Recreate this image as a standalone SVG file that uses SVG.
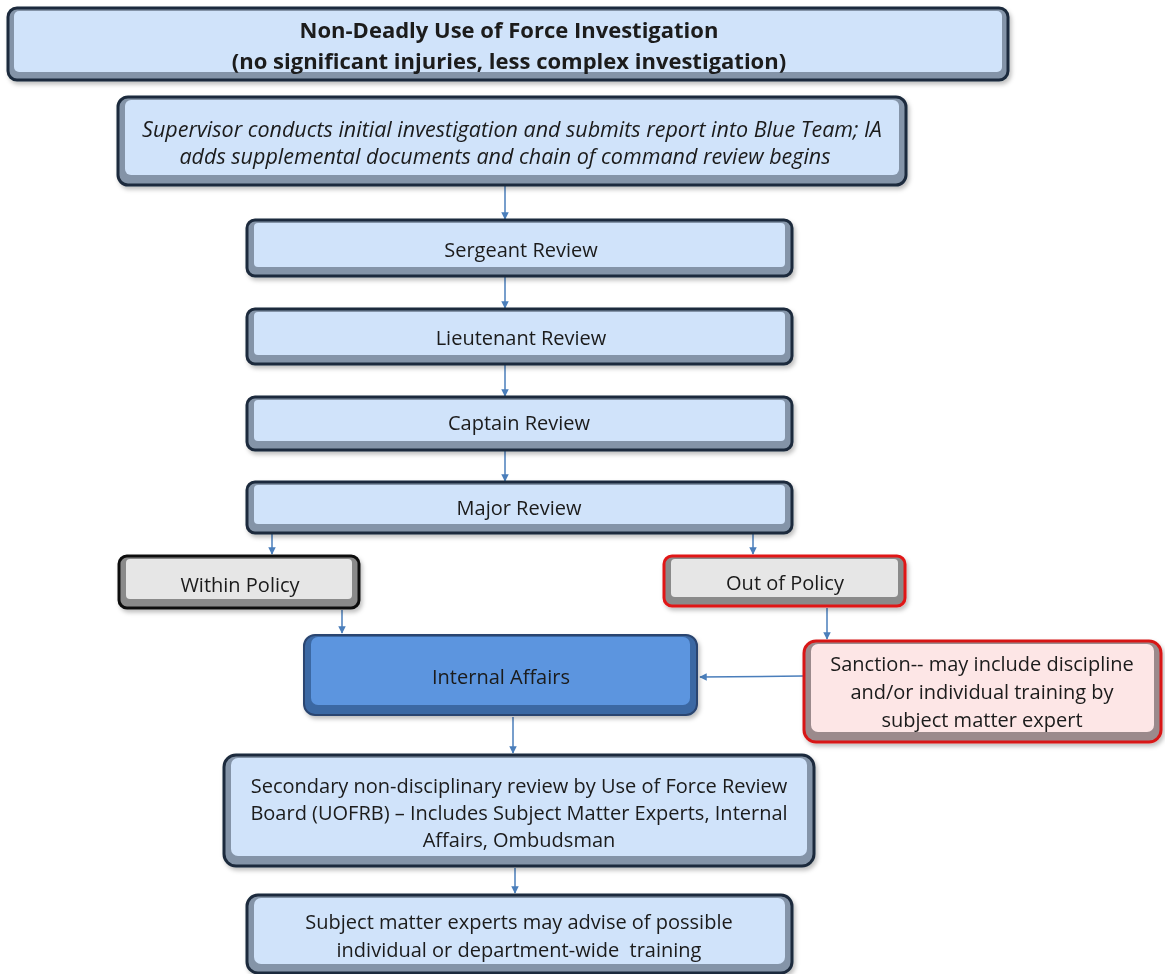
<svg xmlns="http://www.w3.org/2000/svg" width="1165" height="974" viewBox="0 0 1165 974">
<defs>
<marker id="ah" viewBox="0 0 10 10" refX="9" refY="5" markerWidth="5" markerHeight="5" orient="auto-start-reverse" markerUnits="strokeWidth"><path d="M0,0 L10,5 L0,10 z" fill="#4a7ebb"/></marker>
<filter id="sh" x="-5%" y="-10%" width="110%" height="130%"><feDropShadow dx="2" dy="3" stdDeviation="2" flood-color="#000" flood-opacity="0.25"/></filter>
</defs>
<style>
text{font-family:"Open Sans","Liberation Sans",sans-serif;font-size:20px;fill:#1a1a1a;text-anchor:middle}
.b{font-weight:bold;font-size:22px}
.i{font-style:italic;font-size:21.5px}
.pre{white-space:pre}
.o{stroke-width:3}
.blue .o{fill:#8494a8;stroke:#1d2b3c}
.blue .n{fill:#d0e3fa}
.gray .o{fill:#8a8a8a;stroke:#111}
.gray .n{fill:#e6e6e6}
.red .o{fill:#8a8a8a;stroke:#e01818}
.red .n{fill:#e6e6e6}
.ia .o{fill:#3b67a3;stroke:#2a4570;stroke-width:2}
.ia .n{fill:#5b95df}
.pink .o{fill:#9b8a8c;stroke:#d81818}
.pink .n{fill:#fde6e6}
.c{stroke:#4a7ebb;stroke-width:1.5;fill:none;marker-end:url(#ah)}
</style>
<rect width="1165" height="974" fill="#fff"/>
<g id="connectors">
<line class="c" x1="505" y1="186" x2="505" y2="219"/>
<line class="c" x1="505" y1="277" x2="505" y2="308"/>
<line class="c" x1="505" y1="365" x2="505" y2="396"/>
<line class="c" x1="505" y1="451" x2="505" y2="481"/>
<line class="c" x1="272" y1="534" x2="272" y2="554"/>
<line class="c" x1="753" y1="534" x2="753" y2="554"/>
<line class="c" x1="342" y1="610" x2="342" y2="633"/>
<line class="c" x1="827" y1="608" x2="827" y2="639"/>
<line class="c" x1="803" y1="676" x2="700" y2="677"/>
<line class="c" x1="513" y1="717" x2="513" y2="753"/>
<line class="c" x1="515" y1="868" x2="515" y2="893"/>
</g>
<g id="title" class="blue" filter="url(#sh)">
<rect class="o" x="8" y="8" width="1000" height="72" rx="9"/>
<rect class="n" x="14" y="11" width="988" height="61" rx="5"/>
<text class="b" x="509" y="38">Non-Deadly Use of Force Investigation</text>
<text class="b" x="509" y="69">(no significant injuries, less complex investigation)</text>
</g>
<g id="supervisor" class="blue" filter="url(#sh)">
<rect class="o" x="118" y="97" width="788" height="88" rx="10"/>
<rect class="n" x="125" y="100" width="774" height="75" rx="6"/>
<text class="i" x="512" y="137">Supervisor conducts initial investigation and submits report into Blue Team; IA</text>
<text class="i" x="505" y="164">adds supplemental documents and chain of command review begins</text>
</g>
<g id="sergeant" class="blue" filter="url(#sh)">
<rect class="o" x="247" y="220" width="545" height="56" rx="8"/>
<rect class="n" x="254" y="223" width="531" height="44" rx="4"/>
<text x="521" y="257">Sergeant Review</text>
</g>
<g id="lieutenant" class="blue" filter="url(#sh)">
<rect class="o" x="247" y="309" width="545" height="55" rx="8"/>
<rect class="n" x="254" y="312" width="531" height="43" rx="4"/>
<text x="521" y="345">Lieutenant Review</text>
</g>
<g id="captain" class="blue" filter="url(#sh)">
<rect class="o" x="247" y="397" width="545" height="53" rx="8"/>
<rect class="n" x="254" y="400" width="531" height="41" rx="4"/>
<text x="519" y="430">Captain Review</text>
</g>
<g id="major" class="blue" filter="url(#sh)">
<rect class="o" x="247" y="482" width="545" height="51" rx="8"/>
<rect class="n" x="254" y="485" width="531" height="39" rx="4"/>
<text x="519" y="515">Major Review</text>
</g>
<g id="within" class="gray" filter="url(#sh)">
<rect class="o" x="119" y="556" width="240" height="52" rx="8"/>
<rect class="n" x="126" y="559" width="226" height="40" rx="4"/>
<text x="240" y="592">Within Policy</text>
</g>
<g id="outofpolicy" class="red" filter="url(#sh)">
<rect class="o" x="664" y="556" width="241" height="50" rx="8"/>
<rect class="n" x="671" y="559" width="227" height="38" rx="4"/>
<text x="785" y="590">Out of Policy</text>
</g>
<g id="internalaffairs" class="ia" filter="url(#sh)">
<rect class="o" x="304" y="635" width="393" height="80" rx="11"/>
<rect class="n" x="311" y="637" width="379" height="68" rx="7"/>
<text x="501" y="684">Internal Affairs</text>
</g>
<g id="sanction" class="pink" filter="url(#sh)">
<rect class="o" x="804" y="641" width="357" height="101" rx="12"/>
<rect class="n" x="811" y="644" width="343" height="88" rx="7"/>
<text x="982" y="671">Sanction-- may include discipline</text>
<text x="982" y="699">and/or individual training by</text>
<text x="982" y="727">subject matter expert</text>
</g>
<g id="secondary" class="blue" filter="url(#sh)">
<rect class="o" x="224" y="755" width="590" height="111" rx="12"/>
<rect class="n" x="231" y="758" width="576" height="98" rx="7"/>
<text x="519" y="793">Secondary non-disciplinary review by Use of Force Review</text>
<text x="519" y="820">Board (UOFRB) – Includes Subject Matter Experts, Internal</text>
<text x="519" y="847">Affairs, Ombudsman</text>
</g>
<g id="subject" class="blue" filter="url(#sh)">
<rect class="o" x="247" y="895" width="545" height="78" rx="11"/>
<rect class="n" x="254" y="898" width="531" height="66" rx="7"/>
<text x="519" y="929">Subject matter experts may advise of possible</text>
<text class="pre" x="519" y="957">individual or department-wide  training</text>
</g>
</svg>
